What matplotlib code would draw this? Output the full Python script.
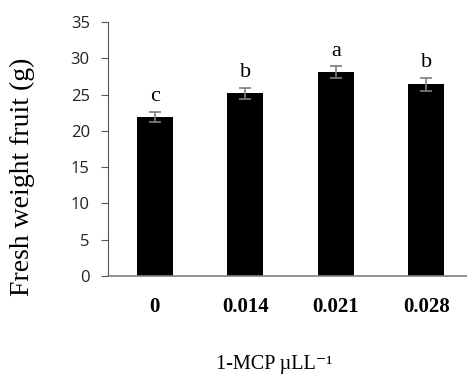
import matplotlib.pyplot as plt

# data
doses = ["0", "0.014", "0.021", "0.028"]
weights = [21.9, 25.2, 28.1, 26.4]
errors = [0.7, 0.75, 0.8, 0.9]
letters = ["c", "b", "a", "b"]

fig = plt.figure(figsize=(4.67, 3.81), dpi=100)
ax = fig.add_axes([0.231, 0.276, 0.769, 0.666])

x = range(len(doses))
ax.bar(x, weights, width=0.4, color="black", zorder=2)
ax.errorbar(x, weights, yerr=errors, fmt="none", ecolor="#7f7f7f",
            elinewidth=1.2, capsize=4, capthick=1.2, zorder=3)

for i, (w, e, l) in enumerate(zip(weights, errors, letters)):
    ax.text(i, w + e + 0.8, l, ha="center", va="bottom",
            family="Liberation Serif", fontsize=16)

ax.set_xlim(-0.52, 3.45)
ax.set_ylim(0, 35)
ax.set_yticks(range(0, 36, 5))
ax.set_xticks(list(x))
ax.set_xticklabels(doses, family="Liberation Serif", fontweight="bold", fontsize=15)
for t in ax.get_yticklabels():
    t.set_family("Open Sans")
    t.set_fontsize(12)
    t.set_color("#222222")

ax.tick_params(axis="x", length=0, pad=15)
ax.tick_params(axis="y", direction="out", length=5, color="#555555", pad=8)

for s in ["top", "right"]:
    ax.spines[s].set_visible(False)
ax.spines["left"].set_color("#555555")
ax.spines["bottom"].set_color("#7f7f7f")
ax.spines["bottom"].set_linewidth(1.2)

fig.text(22 / 467, 1 - 177 / 381, "Fresh weight fruit (g)", rotation=90,
         ha="center", va="center", family="Liberation Serif", fontsize=20)
fig.text(0.588, 1 - 365 / 381, "1-MCP \u00b5LL\u207b\u00b9", ha="center", va="center",
         family=["Liberation Serif", "DejaVu Serif"], fontsize=14.5)

fig.savefig("out.png", dpi=100)
